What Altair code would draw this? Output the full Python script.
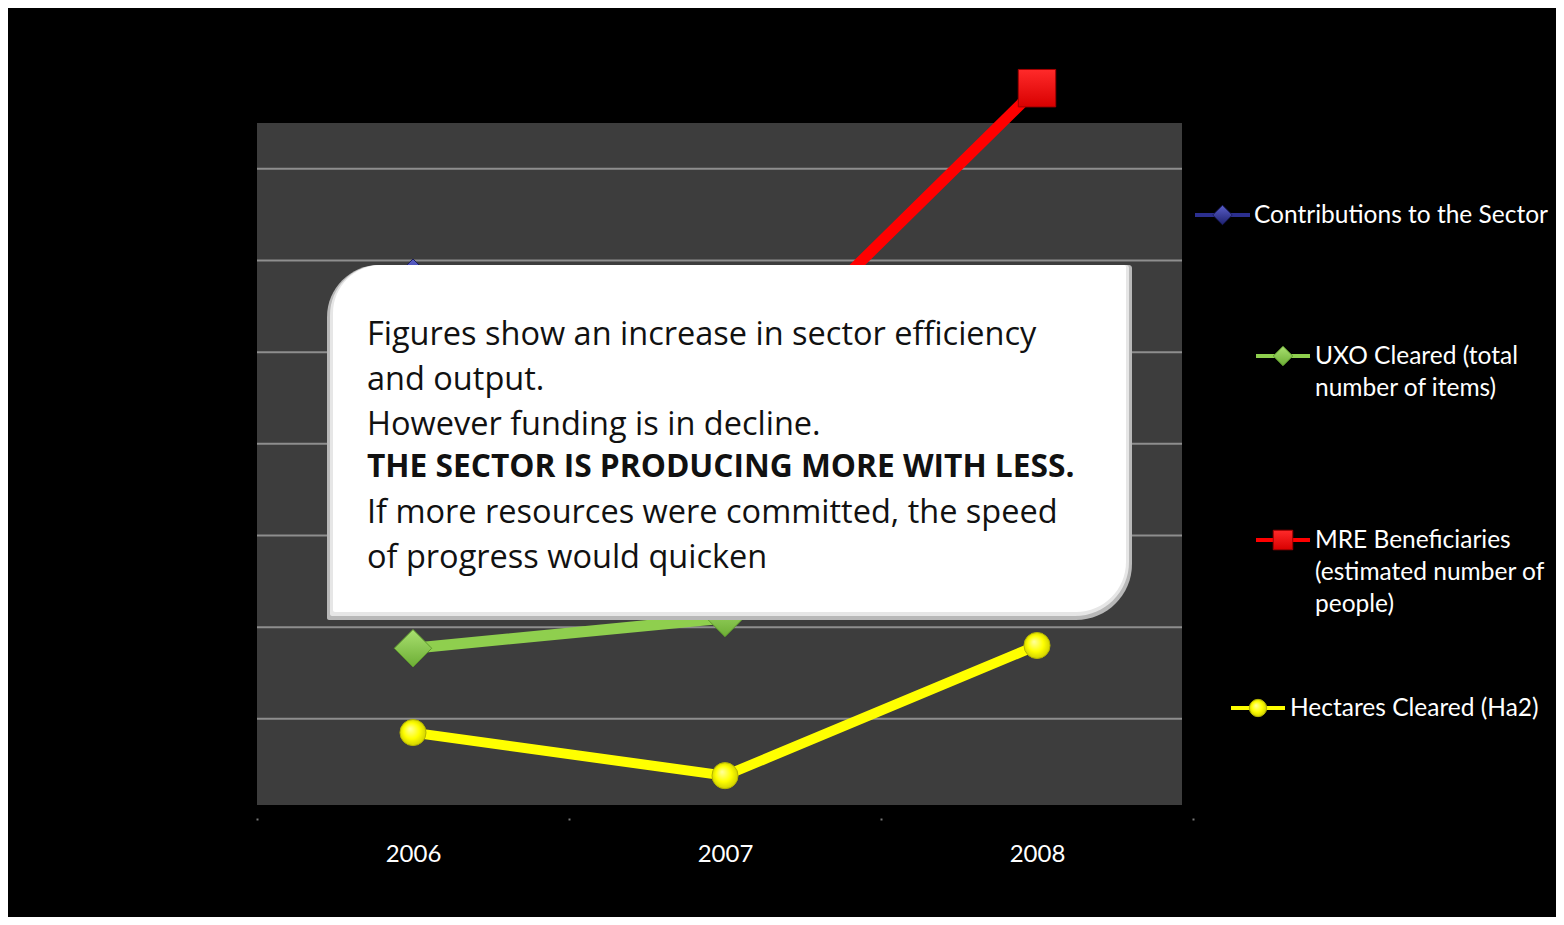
import altair as alt
import pandas as pd

# ---------------- data ----------------
years = ["2006", "2007", "2008"]
series_names = [
    "Contributions to the Sector",
    "UXO Cleared (total number of items)",
    "MRE Beneficiaries (estimated number of people)",
    "Hectares Cleared (Ha2)",
]
contributions = [5.82, 5.0, 4.3]
uxo_cleared = [1.77, 2.10, 3.3]
mre_beneficiaries = [3.9, 4.53, 7.88]
hectares_cleared = [0.85, 0.38, 1.80]
grid_values = [1, 2, 3, 4, 5, 6, 7]

legend_labels = [
    "Contributions to the Sector",
    "UXO Cleared (total\nnumber of items)",
    "MRE Beneficiaries\n(estimated number of\npeople)",
    "Hectares Cleared (Ha2)",
]
callout_lines = [
    "Figures show an increase in sector efficiency",
    "and output.",
    "However funding is in decline.",
    "THE SECTOR IS PRODUCING MORE WITH LESS.",
    "If more resources were committed, the speed",
    "of progress would quicken",
]

# ---------------- layout / style ----------------
W, H = 936, 682
WALL_W = 925
FONT = "Lato"
CFONT = "Open Sans"

rows = []
for name, vals in zip(series_names, [contributions, uxo_cleared, mre_beneficiaries, hectares_cleared]):
    for yr, v in zip(years, vals):
        rows.append({"series": name, "year": yr, "value": v})
df = pd.DataFrame(rows)
one = pd.DataFrame({"k": [0]})

yscale = alt.Scale(domain=[0.06, 7.5], nice=False, zero=False)
X = alt.X(
    "year:N",
    scale=alt.Scale(type="band", domain=years, paddingInner=0, paddingOuter=0),
    bandPosition=0.5,
    axis=alt.Axis(
        title=None, domain=False, grid=False, labelColor="white", labelFont=FONT,
        labelFontSize=24, labelAngle=0, tickBand="extent", tickSize=2,
        tickColor="#777777", tickWidth=2, offset=13, labelPadding=34,
        labelBaseline="middle",
    ),
)
Y = alt.Y("value:Q", scale=yscale, axis=None)


def lin(c1, c2):
    return alt.LinearGradient(
        gradient="linear",
        stops=[alt.GradientStop(color=c1, offset=0), alt.GradientStop(color=c2, offset=1)],
        x1=0, y1=0, x2=0, y2=1,
    )


def rad(c1, c2, c3):
    return alt.RadialGradient(
        gradient="radial",
        stops=[alt.GradientStop(color=c1, offset=0), alt.GradientStop(color=c2, offset=0.55),
               alt.GradientStop(color=c3, offset=1)],
        x1=0.38, y1=0.35, r1=0, x2=0.5, y2=0.5, r2=0.55,
    )


styles = [
    dict(color="#2B2F8F", shape="diamond", size=1300, fill=lin("#5A5FC8", "#1E2170"), stroke="#1A1C60", lw=9),
    dict(color="#8FCF4E", shape="diamond", size=1400, fill=lin("#A9E070", "#6DAE35"), stroke="#5E9A2C", lw=11),
    dict(color="#FF0000", shape="square", size=1400, fill=lin("#FF2A2A", "#D80000"), stroke="#A00000", lw=11),
    dict(color="#FFFF00", shape="circle", size=680, fill=rad("#FFFFA0", "#FFFF00", "#C9C900"), stroke="#B5B500", lw=10),
]
legend_layout = [
    dict(x1=938, x2=993, y=92, tx=997),
    dict(x1=999, x2=1053, y=233, tx=1058),
    dict(x1=999, x2=1053, y=417, tx=1058),
    dict(x1=974, x2=1028, y=585, tx=1033),
]

layers = []

# plot wall
layers.append(
    alt.Chart(one).mark_rect(color="#3D3D3D").encode(
        x=alt.value(0), x2=alt.value(WALL_W), y=alt.value(0), y2=alt.value(H)
    )
)
# gridlines
layers.append(
    alt.Chart(pd.DataFrame({"value": grid_values})).mark_rule(color="#8E8E8E", strokeWidth=2).encode(
        y=Y, x=alt.value(0), x2=alt.value(WALL_W)
    )
)

# series
for name, st in zip(series_names, styles):
    d = df[df["series"] == name]
    base = alt.Chart(d)
    layers.append(base.mark_line(color=st["color"], strokeWidth=st["lw"]).encode(x=X, y=Y))
    layers.append(
        base.mark_point(
            shape=st["shape"], filled=True, fill=st["fill"], stroke=st["stroke"],
            strokeWidth=1, size=st["size"], opacity=1,
        ).encode(x=X, y=Y)
    )

# callout box
BX1, BX2, BY1, BY2 = 70, 875, 142, 497
layers.append(
    alt.Chart(one).mark_rect(
        fill="#B8B8B8", cornerRadiusTopLeft=52, cornerRadiusBottomRight=56,
        cornerRadiusTopRight=3, cornerRadiusBottomLeft=2,
    ).encode(x=alt.value(BX1), x2=alt.value(BX2), y=alt.value(BY1), y2=alt.value(BY2))
)
layers.append(
    alt.Chart(one).mark_rect(
        fill="#E6E6E6", cornerRadiusTopLeft=50, cornerRadiusBottomRight=54,
        cornerRadiusTopRight=3, cornerRadiusBottomLeft=2,
    ).encode(x=alt.value(BX1 + 3), x2=alt.value(BX2 - 3), y=alt.value(BY1), y2=alt.value(BY2 - 4))
)
layers.append(
    alt.Chart(one).mark_rect(
        fill="white", cornerRadiusTopLeft=48, cornerRadiusBottomRight=50,
        cornerRadiusTopRight=2, cornerRadiusBottomLeft=2,
    ).encode(x=alt.value(BX1 + 6), x2=alt.value(BX2 - 6), y=alt.value(BY1), y2=alt.value(BY2 - 8))
)

LH = 45
TX = 110
groups = [
    (callout_lines[0:3], 210, "normal", 32.5),
    (callout_lines[3:4], 343, "bold", 31.7),
    (callout_lines[4:6], 388, "normal", 32.5),
]
for lines, cy, fw, fs in groups:
    layers.append(
        alt.Chart(one).mark_text(
            align="left", baseline="top", font=CFONT, fontSize=fs, fontWeight=fw,
            lineHeight=LH, lineBreak="\n", color="#111111",
        ).encode(x=alt.value(TX), y=alt.value(cy - round(0.44 * fs)), text=alt.value("\n".join(lines)))
    )

# legend
LFS = 24.5
for lab, st, lay in zip(legend_labels, styles, legend_layout):
    layers.append(
        alt.Chart(one).mark_rule(color=st["color"], strokeWidth=4).encode(
            x=alt.value(lay["x1"]), x2=alt.value(lay["x2"]), y=alt.value(lay["y"])
        )
    )
    layers.append(
        alt.Chart(one).mark_point(
            shape=st["shape"], filled=True, fill=st["fill"], stroke=st["stroke"],
            strokeWidth=1, size=380 if st["shape"] != "circle" else 300, opacity=1,
        ).encode(x=alt.value((lay["x1"] + lay["x2"]) / 2), y=alt.value(lay["y"]))
    )
    layers.append(
        alt.Chart(one).mark_text(
            align="left", baseline="top", font=FONT, fontSize=LFS, lineHeight=32,
            lineBreak="\n", color="white",
        ).encode(x=alt.value(lay["tx"]), y=alt.value(lay["y"] - round(0.44 * LFS)), text=alt.value(lab))
    )

chart = alt.layer(*layers).properties(
    width=W, height=H, background="black",
    padding={"left": 249, "top": 115, "right": 363, "bottom": 112},
    autosize=alt.AutoSizeParams(type="none"),
).configure_view(stroke=None)

chart.save("out.html", embed_options={"renderer": "svg", "actions": False})
